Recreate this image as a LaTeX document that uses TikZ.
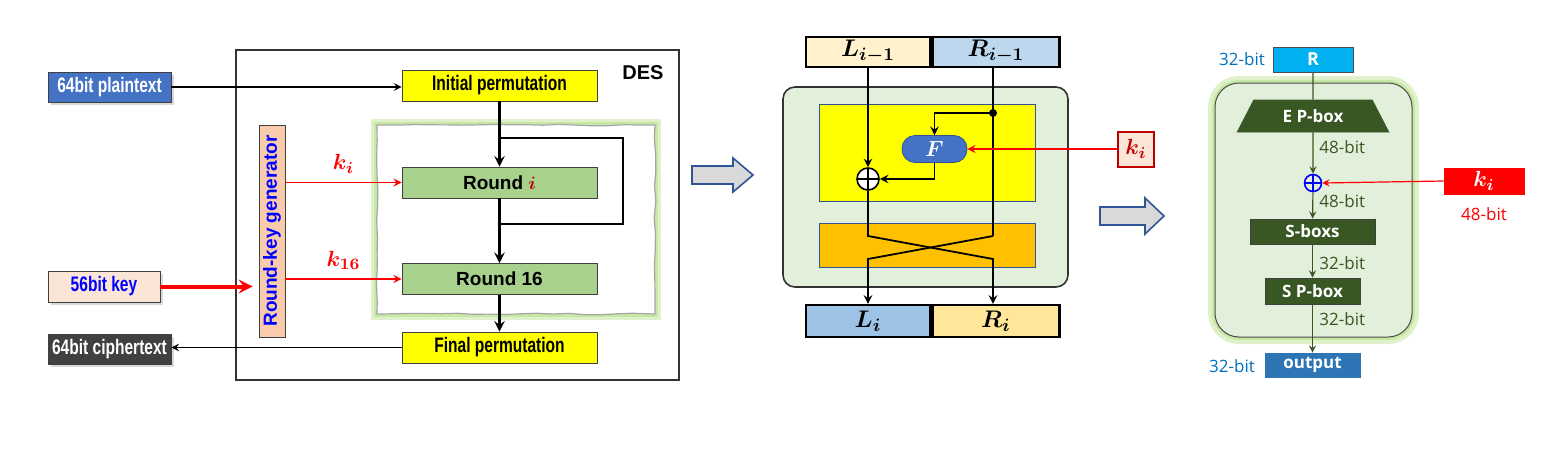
\documentclass[tikz,border=0pt]{standalone}
\usepackage{amsmath,amssymb}
\usepackage{fontspec}
\usepackage{tikz}
\usetikzlibrary{positioning,calc,shapes.geometric,shadows,decorations.pathmorphing}
\setmainfont{Liberation Sans}
\newfontfamily\narrowfont[FakeStretch=0.74]{Liberation Sans}
\newfontfamily\notofont{Open Sans}
\definecolor{PlainBlue}{RGB}{68,114,196}
\definecolor{CipherGray}{RGB}{64,64,64}
\definecolor{KeyPeach}{RGB}{251,229,214}
\definecolor{GenPeach}{RGB}{248,203,173}
\definecolor{RoundGreen}{RGB}{169,209,142}
\definecolor{PermYellow}{RGB}{255,255,0}
\definecolor{LeftCream}{RGB}{255,242,204}
\definecolor{RightSky}{RGB}{189,215,238}
\definecolor{LeftSky}{RGB}{157,195,230}
\definecolor{RightCream}{RGB}{255,230,153}
\definecolor{PaleGreen}{RGB}{226,239,218}
\definecolor{SwapOrange}{RGB}{255,192,0}
\definecolor{EdgeBlue}{RGB}{47,85,151}
\definecolor{DarkRed}{RGB}{192,0,0}
\definecolor{CyanBox}{RGB}{0,176,240}
\definecolor{PineGreen}{RGB}{56,87,35}
\definecolor{OutBlue}{RGB}{46,117,182}
\definecolor{LabelBlue}{RGB}{0,112,192}
\definecolor{GlowGreen}{RGB}{146,208,80}

\begin{document}
\begin{tikzpicture}[x=0.5pt, y=-0.5pt, >=stealth,
    box/.style={rectangle, draw=black!75, inner sep=0pt, align=center},
    iobox/.style={box, minimum width=61.5pt, minimum height=15pt, text=white,
      font=\narrowfont\fontsize{10.5}{12}\selectfont\bfseries,
      drop shadow={shadow xshift=1.5pt, shadow yshift=-1.5pt, opacity=0.3}},
    permbox/.style={box, fill=PermYellow, minimum width=97.5pt, minimum height=15.5pt,
      font=\narrowfont\fontsize{10.5}{12}\selectfont\bfseries},
    roundbox/.style={box, fill=RoundGreen, minimum width=97.5pt, minimum height=15.5pt,
      font=\fontsize{9.5}{11}\selectfont\bfseries},
    flow/.style={->, line width=1.3pt},
    link/.style={->, line width=0.7pt},
    keyflow/.style={->, red, line width=0.8pt},
    halfbox/.style={box, draw=black, line width=1.2pt, minimum height=15pt,
      font=\fontsize{13}{15}\selectfont},
    wire/.style={line width=0.9pt},
    xorsym/.style={circle, draw, inner sep=0pt, minimum size=#1,
      path picture={\draw (path picture bounding box.north) -- (path picture bounding box.south)
        (path picture bounding box.west) -- (path picture bounding box.east);}},
    gbox/.style={box, fill=PineGreen, text=white, minimum height=12.5pt,
      font=\notofont\bfseries\fontsize{8.5}{10}\selectfont},
    bitlabel/.style={font=\notofont\fontsize{8.5}{10}\selectfont, text=PineGreen, inner sep=0pt},
    gwire/.style={->, draw=PineGreen, line width=0.6pt},
    bigarrow/.style={fill=black!15, draw=EdgeBlue, line width=0.8pt},
    glow/.style={draw=GlowGreen, line width=#1, opacity=0.3},
    rough/.style={decorate, decoration={random steps, segment length=8pt, amplitude=0.4pt}}
  ]
  \useasboundingbox (0,0) rectangle (1562,456);
  \pgfmathsetseed{7}

  % ---- DES overview ----
  \draw[black!80, line width=0.6pt] (236,50) rectangle (679,380);
  \node[font=\fontsize{10}{12}\selectfont\bfseries] (deslabel) at (643,73) {DES};
  \draw[glow=6pt] (377,125) rectangle (655,314);
  \draw[glow=3pt] (377,125) rectangle (655,314);
  \draw[rough, fill=white, draw=black!35, line width=0.6pt] (377,125) rectangle (655,314);

  \node[iobox, fill=PlainBlue] (plain) at (109.5,87) {64bit plaintext};
  \node[iobox, fill=CipherGray] (cipher) at (109.5,349) {64bit ciphertext};
  \node[iobox, fill=KeyPeach, text=blue, minimum width=56pt, minimum height=15.5pt] (key) at (104,286.5) {56bit key};
  \node[box, fill=GenPeach, rotate=90, minimum width=106pt, minimum height=13pt,
    text=blue, font=\fontsize{9.5}{11}\selectfont\bfseries] (rkg) at (272,231) {Round-key generator};

  \node[permbox] (ip) at (499.5,85.5) {Initial permutation};
  \node[roundbox] (roundi) at (499.5,182.5) {Round \textcolor{DarkRed}{$\boldsymbol{i}$}};
  \node[roundbox] (round16) at (499.5,279) {Round 16};
  \node[permbox] (fp) at (499.5,347.5) {Final permutation};

  \coordinate (looptop) at (500,138);
  \coordinate (loopbot) at (500,224);
  \coordinate (loopside) at (623,0);

  \draw[link] (plain.east) -- (plain.east -| ip.west);
  \draw[flow] (ip) -- (roundi);
  \draw[line width=1.3pt] (looptop) -| (loopside |- loopbot) -- (loopbot);
  \draw[flow] (roundi) -- (round16);
  \draw[flow] (round16) -- (fp);
  \draw[link] (fp.west) -- (fp.west -| cipher.east);
  \draw[->, red, line width=2pt, shorten >=3pt] (key.east) -- (key.east -| rkg.north);
  \draw[keyflow] (rkg.south |- roundi.west) -- node[above=1pt, font=\fontsize{11}{12}\selectfont] (kilabel) {$\boldsymbol{k_i}$} (roundi.west);
  \draw[keyflow] (rkg.south |- round16.west) -- node[above=1pt, font=\fontsize{11}{12}\selectfont] (k16label) {$\boldsymbol{k_{16}}$} (round16.west);

  \draw[bigarrow] (692,166) -- (733,166) -- (733,158) -- (753,175) -- (733,192) -- (733,184) -- (692,184) -- cycle;

  % ---- one Feistel round ----
  \fill[PaleGreen, draw=black!80, line width=0.8pt, rounded corners=6pt] (783,87) rectangle (1068,287);
  \draw[EdgeBlue, fill=PermYellow, line width=0.5pt] (819,104) rectangle (1035,201);
  \draw[EdgeBlue, fill=SwapOrange, line width=0.5pt] (819,223) rectangle (1035,267);

  \node[halfbox, fill=LeftCream, minimum width=62pt] (lprev) at (868,52) {$\boldsymbol{L_{i-1}}$};
  \node[halfbox, fill=RightSky, minimum width=63.5pt, right=0pt of lprev] (rprev) {$\boldsymbol{R_{i-1}}$};
  \node[halfbox, fill=LeftSky, minimum width=62pt, minimum height=16pt] (lcur) at (868,321) {$\boldsymbol{L_{i}}$};
  \node[halfbox, fill=RightCream, minimum width=63.5pt, minimum height=16pt, right=0pt of lcur] (rcur) {$\boldsymbol{R_{i}}$};

  \node[box, fill=PlainBlue, draw=EdgeBlue, rounded corners=6.5pt, minimum width=32.5pt,
    minimum height=13.5pt, text=white, font=\fontsize{11}{12}\selectfont] (ffun) at (934.5,149) {$\boldsymbol{F}$};
  \node[xorsym=11pt, fill=white, line width=0.8pt] (xor) at (868,179) {};
  \node[box, fill=KeyPeach, draw=DarkRed, line width=1pt, minimum width=18pt, minimum height=17.5pt,
    text=DarkRed, font=\fontsize{11}{12}\selectfont] (kmid) at (1136,149) {$\boldsymbol{k_i}$};

  \coordinate (rdot) at (993,113);
  \coordinate (lcross) at (868,236);
  \coordinate (rcross) at (993,236);
  \coordinate (lswap) at (868,259);
  \coordinate (rswap) at (993,259);

  \draw[wire, ->] (lprev) -- (xor);
  \draw[wire] (rprev.south -| rdot) -- (rcross);
  \fill (rdot) circle (2pt);
  \draw[wire, ->] (rdot) -| (ffun.north);
  \draw[wire, ->] (ffun.south) |- (xor.east);
  \draw[->, red, line width=0.8pt] (kmid.west) -- (ffun.east);
  \draw[wire, ->] (xor.south) -- (lcross) -- (rswap) -- (rswap |- rcur.north);
  \draw[wire, ->] (rcross) -- (lswap) -- (lcur.north);

  \draw[bigarrow] (1100,207) -- (1145,207) -- (1145,198) -- (1164,216) -- (1145,234) -- (1145,225) -- (1100,225) -- cycle;

  % ---- round function F ----
  \draw[glow=7pt, rounded corners=12pt] (1215,83) rectangle (1412,337);
  \draw[glow=3pt, rounded corners=12pt] (1215,83) rectangle (1412,337);
  \draw[fill=PaleGreen, draw=black!70, line width=0.5pt, rounded corners=12pt] (1215,83) rectangle (1412,337);

  \node[gbox, fill=CyanBox, draw=black!70, minimum width=40pt, font=\notofont\bfseries\fontsize{9}{10}\selectfont] (rin) at (1313,59.5) {R};
  \node[font=\notofont\fontsize{8.5}{10}\selectfont, text=LabelBlue] (rbits) at (1242,59) {32-bit};
  \node[trapezium, trapezium angle=57, trapezium stretches=true, fill=PineGreen, draw=PineGreen,
    minimum width=76pt, minimum height=16pt, inner sep=0pt, text=white,
    font=\notofont\bfseries\fontsize{8.5}{10}\selectfont] (epbox) at (1313,116) {E P-box};
  \node[xorsym=8.5pt, draw=blue, line width=0.8pt] (xorf) at (1313,183) {};
  \node[gbox, minimum width=62.5pt] (sbox) at (1312.5,231.5) {S-boxs};
  \node[gbox, minimum width=47.5pt, minimum height=13pt] (spbox) at (1312.5,291) {S P-box};
  \node[gbox, fill=OutBlue, draw=OutBlue, minimum width=47.5pt, minimum height=12pt] (out) at (1312.5,365) {output};
  \node[font=\notofont\fontsize{8.5}{10}\selectfont, text=LabelBlue] (outbits) at (1232,366) {32-bit};
  \node[box, fill=red, draw=red, minimum width=40pt, minimum height=13pt, text=white,
    font=\fontsize{11}{12}\selectfont] (kright) at (1484,181) {$\boldsymbol{k_i}$};
  \node[font=\notofont\fontsize{8.5}{10}\selectfont, text=red, below=3pt of kright] (kbits) {48-bit};

  \draw[draw=PineGreen, line width=0.6pt] (rin) -- (epbox);
  \draw[gwire] (epbox) -- (xorf);
  \draw[gwire] (xorf) -- (sbox);
  \draw[gwire] (sbox) -- (spbox);
  \draw[gwire] (spbox) -- (out);
  \draw[->, red, line width=0.6pt] (kright.west) -- (xorf.east);

  \node[bitlabel, anchor=west] (bits1) at (1319,147) {48-bit};
  \node[bitlabel, anchor=west] (bits2) at (1319,201) {48-bit};
  \node[bitlabel, anchor=west] (bits3) at (1319,263) {32-bit};
  \node[bitlabel, anchor=west] (bits4) at (1319,319) {32-bit};
\end{tikzpicture}
\end{document}
